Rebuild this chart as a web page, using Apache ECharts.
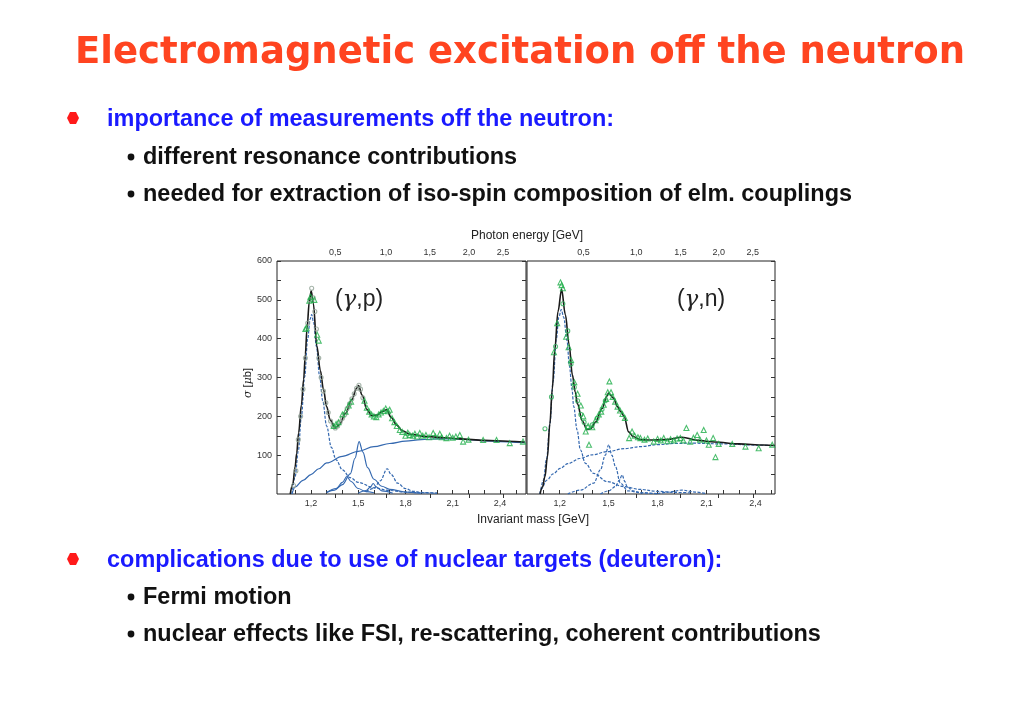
<!DOCTYPE html>
<html><head><meta charset="utf-8">
<script src="https://cdn.jsdelivr.net/npm/echarts@6/dist/echarts.min.js"></script>
<style>html,body{margin:0;padding:0;background:#fff}#c{width:1024px;height:709px}</style>
</head><body><div id="c"></div><script>
// ---------- axis ticks / labels ----------
const massLabels = [1.2, 1.5, 1.8, 2.1, 2.4];
const massTicks = [1.1,1.2,1.3,1.4,1.5,1.6,1.7,1.8,1.9,2.0,2.1,2.2,2.3,2.4,2.5];
const photonLabels = ['0,5','1,0','1,5','2,0','2,5'];
const photonTickW_p = [1.354, 1.676, 1.955, 2.204, 2.419];
const photonTickW_n = [1.347, 1.669, 1.941, 2.175, 2.384];
const sigmaLabels = [100, 200, 300, 400, 500, 600];
const sigmaTicks = [50,100,150,200,250,300,350,400,450,500,550,600];

// ---------- (gamma,p) ----------
const pTotal = [[1.069,0],[1.085,25],[1.10,70],[1.11,105],[1.122,157],[1.14,230],[1.154,295],[1.165,360],[1.175,424],[1.19,495],[1.202,523],[1.215,492],[1.238,381],[1.26,318],[1.28,269],[1.30,225],[1.322,191],[1.354,170],[1.38,178],[1.42,208],[1.46,243],[1.49,272],[1.502,279],[1.525,255],[1.555,218],[1.585,202],[1.62,203],[1.65,212],[1.68,217],[1.71,197],[1.743,178],[1.78,163],[1.828,154],[1.934,148],[2.05,145],[2.145,142],[2.3,138],[2.45,136],[2.557,134]];
const pDelta = [[1.08,0],[1.10,45],[1.12,110],[1.14,200],[1.16,300],[1.18,400],[1.195,450],[1.205,462],[1.218,440],[1.235,380],[1.255,305],[1.275,240],[1.30,175],[1.33,120],[1.36,88],[1.40,62],[1.45,42],[1.5,30],[1.6,16],[1.7,9],[1.8,5],[1.9,3],[2.0,2]];
const pBkg = [[1.08,0],[1.10,18],[1.15,35],[1.2,50],[1.25,65],[1.3,80],[1.4,97],[1.5,110],[1.6,122],[1.7,130],[1.8,136],[1.9,140],[2.0,142],[2.1,142],[2.2,140],[2.3,137],[2.4,135],[2.5,133],[2.56,132]];
const pP11 = [[1.30,4],[1.36,14],[1.40,30],[1.428,45],[1.455,32],[1.50,14],[1.55,6],[1.6,3]];
const pD13 = [[1.30,4],[1.35,10],[1.40,24],[1.45,52],[1.48,92],[1.506,135],[1.53,108],[1.56,68],[1.60,38],[1.65,20],[1.70,12],[1.80,5],[1.90,2]];
const pS11 = [[1.50,2],[1.55,9],[1.58,19],[1.595,27],[1.615,18],[1.65,8],[1.72,2]];
const pF15 = [[1.55,6],[1.60,15],[1.64,34],[1.684,65],[1.71,50],[1.75,28],[1.80,14],[1.85,7],[1.9,4],[2.0,2]];
const pCircles = [[1.09,22],[1.105,60],[1.12,140],[1.135,200],[1.15,270],[1.165,350],[1.18,440],[1.195,500],[1.205,530],[1.215,505],[1.225,470],[1.235,425],[1.25,350],[1.265,300],[1.28,265],[1.295,235],[1.31,210],[1.325,188],[1.34,175],[1.355,170],[1.37,175],[1.385,185],[1.40,195],[1.415,205],[1.43,220],[1.445,232],[1.46,245],[1.475,258],[1.49,272],[1.505,280],[1.515,270],[1.53,248]];
const pTriangles = [[1.165,425],[1.172,428],[1.19,498],[1.198,508],[1.222,500],[1.24,410],[1.25,395],[1.345,175],[1.36,180],[1.375,185],[1.40,205],[1.42,212],[1.44,228],[1.455,238],[1.54,240],[1.555,222],[1.57,212],[1.585,205],[1.60,200],[1.615,198],[1.63,205],[1.645,210],[1.66,214],[1.675,220],[1.69,213],[1.70,217],[1.715,195],[1.73,185],[1.745,175],[1.764,165],[1.78,160],[1.80,150],[1.815,158],[1.828,152],[1.845,150],[1.86,155],[1.875,148],[1.891,157],[1.91,150],[1.93,152],[1.95,146],[1.976,157],[1.99,148],[2.018,155],[2.03,146],[2.06,144],[2.08,150],[2.10,145],[2.12,148],[2.145,152],[2.166,135],[2.20,140],[2.293,139],[2.378,139],[2.462,131],[2.546,135]];

// ---------- (gamma,n) ----------
const nTotal = [[1.08,0],[1.095,18],[1.11,45],[1.125,95],[1.14,180],[1.155,270],[1.17,370],[1.19,470],[1.212,527],[1.235,462],[1.258,385],[1.278,307],[1.296,262],[1.309,232],[1.339,188],[1.368,166],[1.39,168],[1.42,185],[1.46,220],[1.49,252],[1.50,260],[1.53,247],[1.554,225],[1.575,212],[1.595,200],[1.623,160],[1.65,148],[1.695,140],[1.75,139],[1.85,140],[1.95,146],[2.05,138],[2.15,134],[2.3,129],[2.45,126],[2.52,125]];
const nDelta = [[1.08,0],[1.10,35],[1.12,90],[1.14,180],[1.16,290],[1.18,400],[1.195,455],[1.21,475],[1.225,455],[1.245,395],[1.26,330],[1.276,269],[1.286,226],[1.307,165],[1.327,114],[1.358,79],[1.409,53],[1.491,32],[1.593,19],[1.69,12],[1.8,7],[1.9,4],[2.0,3]];
const nBkg = [[1.08,0],[1.085,12],[1.123,36],[1.16,52],[1.204,66],[1.25,78],[1.327,92],[1.40,101],[1.491,109],[1.6,117],[1.695,122],[1.8,127],[1.9,130],[2.0,131],[2.2,129],[2.4,126],[2.52,124]];
const nD13 = [[1.25,0],[1.327,10],[1.409,28],[1.45,62],[1.48,100],[1.501,127],[1.52,100],[1.542,71],[1.572,28],[1.62,8],[1.7,3],[1.8,1]];
const nS11 = [[1.45,0],[1.50,8],[1.542,19],[1.565,35],[1.583,49],[1.60,32],[1.613,19],[1.65,8],[1.7,3],[1.8,0]];
const nHigh = [[1.8,1],[1.87,5],[1.95,10],[2.03,5],[2.1,1]];
const nCircles = [[1.11,168],[1.15,250],[1.175,380],[1.22,490],[1.25,420],[1.27,335],[1.29,275],[1.31,240],[1.33,205],[1.35,185],[1.37,172],[1.40,178],[1.43,195],[1.46,218],[1.48,240]];
const nTriangles = [[1.165,365],[1.185,440],[1.205,545],[1.212,538],[1.22,530],[1.24,405],[1.255,378],[1.27,345],[1.29,288],[1.31,258],[1.33,228],[1.345,200],[1.36,161],[1.375,175],[1.38,127],[1.40,172],[1.42,190],[1.44,205],[1.455,212],[1.47,230],[1.485,245],[1.495,262],[1.505,290],[1.515,262],[1.525,250],[1.54,238],[1.555,225],[1.57,215],[1.585,206],[1.60,196],[1.626,144],[1.644,161],[1.66,150],[1.68,146],[1.695,144],[1.72,140],[1.74,143],[1.777,135],[1.80,142],[1.82,138],[1.838,144],[1.86,136],[1.88,141],[1.90,138],[1.92,143],[1.94,144],[1.958,138],[1.977,170],[2.0,135],[2.02,145],[2.043,152],[2.06,140],[2.083,165],[2.1,138],[2.114,127],[2.141,144],[2.155,95],[2.175,129],[2.258,129],[2.339,122],[2.42,118],[2.503,127]];

// ---------- text ----------
const titleText = 'Electromagnetic excitation off the neutron';
const bullets1 = ['importance of measurements off the neutron:', 'different resonance contributions', 'needed for extraction of iso-spin composition of elm. couplings'];
const bullets2 = ['complications due to use of nuclear targets (deuteron):', 'Fermi motion', 'nuclear effects like FSI, re-scattering, coherent contributions'];

const BLUE = '#3569b0';
const tickColor = '#333';
const labelStyle = {fontSize: 9, color: '#333', fontFamily: 'Liberation Sans'};

function massAxis(gi, min, max) {
  return {type:'value', gridIndex: gi, position:'bottom', min, max,
    axisLine:{show:false},
    axisTick:{show:true, inside:true, length:4, customValues: massTicks, lineStyle:{color:tickColor}},
    axisLabel: Object.assign({show:true, margin:5, customValues: massLabels,
      formatter: v => v.toFixed(1).replace('.', ',')}, labelStyle),
    splitLine:{show:false}};
}
function photonAxis(gi, min, max, ticks) {
  return {type:'value', gridIndex: gi, position:'top', min, max,
    axisLine:{show:false},
    axisTick:{show:true, inside:true, length:4, customValues: ticks, lineStyle:{color:tickColor}},
    axisLabel: Object.assign({show:true, margin:4, customValues: ticks,
      formatter: v => { let bi=0, bd=1e9; ticks.forEach((t,i)=>{const d=Math.abs(t-v); if(d<bd){bd=d;bi=i;}}); return photonLabels[bi]; }}, labelStyle),
    splitLine:{show:false}};
}
function sigmaAxis(gi, pos, showLabels, showTicks) {
  return {type:'value', gridIndex: gi, position: pos, min:0, max:600,
    axisLine:{show:false},
    axisTick:{show:showTicks, inside:true, length:4, customValues: sigmaTicks, lineStyle:{color:tickColor}},
    axisLabel: Object.assign({show:showLabels, margin:5, customValues: sigmaLabels}, labelStyle),
    splitLine:{show:false}};
}
function lineSeries(xi, data, color, width, type, z) {
  return {type:'line', xAxisIndex: xi, yAxisIndex: xi, data, showSymbol:false, symbol:'none',
    smooth:0.35, smoothMonotone:'x', lineStyle:{color, width, type}, z: z||2, silent:true};
}
function scatterSeries(xi, data, symbol, size, color) {
  return {type:'scatter', xAxisIndex: xi, yAxisIndex: xi, data, symbol, symbolSize: size,
    itemStyle:{color:'rgba(255,255,255,0)', borderColor: color, borderWidth: 1.1}, z: 5, silent:true};
}

const chart = echarts.init(document.getElementById('c'), null, {renderer:'canvas'});
const textFont = 'bold 23px "Liberation Sans", Arial, sans-serif';
const TXS = 1.02;
const graphics = [
  {type:'text', x:520, y:53, style:{text: titleText, font:'bold 37px "DejaVu Sans", sans-serif', fill:'#ff4420',
    align:'center', verticalAlign:'middle', textAlign:'center', textVerticalAlign:'middle',
    shadowColor:'rgba(110,110,110,0.55)', shadowOffsetX:2, shadowOffsetY:3, shadowBlur:2}},
];
function hexBullet(cx, cy) {
  return {type:'polygon', shape:{points:[[cx-3,cy-6],[cx+3,cy-6],[cx+6,cy],[cx+3,cy+6],[cx-3,cy+6],[cx-6,cy]]}, style:{fill:'#ff1a1a'}};
}
function addBlock(lines, y0, dy) {
  graphics.push(hexBullet(73, y0));
  graphics.push({type:'text', x:107, y:y0 + 2, scaleX: TXS, style:{text: lines[0], font: textFont, fill:'#1a1aff', align:'left', verticalAlign:'middle', textAlign:'left', textVerticalAlign:'middle'}});
  for (let i = 1; i < lines.length; i++) {
    const y = y0 + dy[i-1];
    graphics.push({type:'circle', shape:{cx:131, cy:y, r:3.4}, style:{fill:'#111'}});
    graphics.push({type:'text', x:143, y:y + 1, scaleX: TXS, style:{text: lines[i], font: textFont, fill:'#111', align:'left', verticalAlign:'middle', textAlign:'left', textVerticalAlign:'middle'}});
  }
}
addBlock(bullets1, 118, [39, 76]);
addBlock(bullets2, 559, [38, 75]);
const centerText = {align:'center', verticalAlign:'middle', textAlign:'center', textVerticalAlign:'middle'};
graphics.push({type:'text', x:527, y:236, style:Object.assign({text:'Photon energy [GeV]', font:'12px "Liberation Sans", Arial', fill:'#222'}, centerText)});
graphics.push({type:'text', x:533, y:520, style:Object.assign({text:'Invariant mass [GeV]', font:'12px "Liberation Sans", Arial', fill:'#222'}, centerText)});
graphics.push({type:'text', x:248, y:383, rotation: Math.PI/2, style:Object.assign({text:'{s|σ} [{s|μ}b]', font:'11px "Liberation Sans", Arial', fill:'#222',
  rich:{s:{fontStyle:'italic', fontFamily:'DejaVu Serif', fontSize:11, fill:'#222'}}}, centerText)});
const gammaRich = {a:{fontFamily:'Liberation Sans', fontSize:23, fill:'#222'}, g:{fontFamily:'DejaVu Serif', fontStyle:'italic', fontSize:23, fill:'#222'}};
graphics.push({type:'text', x:359, y:300, style:Object.assign({text:'{a|(}{g|γ}{a|,p)}', rich: gammaRich}, centerText)});
graphics.push({type:'text', x:701, y:300, style:Object.assign({text:'{a|(}{g|γ}{a|,n)}', rich: gammaRich}, centerText)});

const option = {
  backgroundColor:'#ffffff',
  animation:false,
  grid:[
    {left:277, top:261, width:249, height:233, show:true, borderColor:'#222', borderWidth:1, backgroundColor:'rgba(0,0,0,0)'},
    {left:527, top:261, width:248, height:233, show:true, borderColor:'#222', borderWidth:1, backgroundColor:'rgba(0,0,0,0)'}
  ],
  xAxis:[
    massAxis(0, 0.985, 2.565), photonAxis(0, 0.985, 2.565, photonTickW_p),
    massAxis(1, 1.0, 2.52), photonAxis(1, 1.0, 2.52, photonTickW_n)
  ],
  yAxis:[
    sigmaAxis(0,'left',true,true), sigmaAxis(0,'right',false,true),
    sigmaAxis(1,'left',false,false), sigmaAxis(1,'right',false,true)
  ],
  series:[
    lineSeries(0, pBkg, BLUE, 1.2, 'solid'),
    lineSeries(0, pDelta, BLUE, 1.2, [3,1.5]),
    lineSeries(0, pP11, BLUE, 1.1, 'solid'),
    lineSeries(0, pD13, BLUE, 1.2, 'solid'),
    lineSeries(0, pS11, BLUE, 1.1, 'solid'),
    lineSeries(0, pF15, BLUE, 1.2, [3,1.5]),
    lineSeries(0, pTotal, '#1a1a1a', 1.6, 'solid', 3),
    scatterSeries(0, pCircles, 'circle', 4, '#8fa093'),
    scatterSeries(0, pTriangles, 'triangle', 5, '#1fae4a'),
    lineSeries(2, nBkg, BLUE, 1.2, [3,1.5]),
    lineSeries(2, nDelta, BLUE, 1.2, [3,1.5]),
    lineSeries(2, nD13, BLUE, 1.2, [3,1.5]),
    lineSeries(2, nS11, BLUE, 1.2, [3,1.5]),
    lineSeries(2, nHigh, BLUE, 1.2, [3,1.5]),
    lineSeries(2, nTotal, '#1a1a1a', 1.6, 'solid', 3),
    scatterSeries(2, nCircles, 'circle', 4, '#2fae5a'),
    scatterSeries(2, nTriangles, 'triangle', 5, '#1fae4a')
  ],
  graphic: graphics
};
chart.setOption(option);
</script></body></html>
